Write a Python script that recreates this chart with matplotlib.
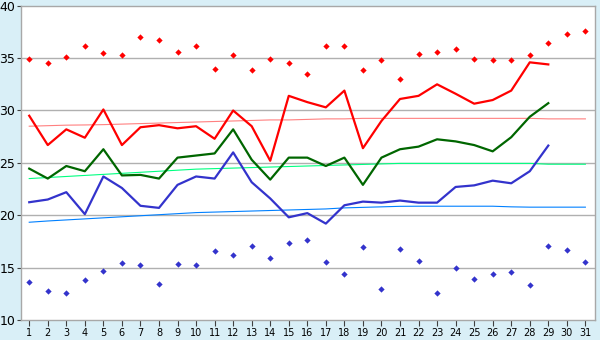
import matplotlib
matplotlib.use("Agg")
import matplotlib.pyplot as plt

days = list(range(1, 32))
obs_days = list(range(1, 30))

record_max = [34.9, 34.5, 35.1, 36.2, 35.5, 35.3, 37.0, 36.7, 35.6, 36.2,
              34.0, 35.3, 33.9, 34.9, 34.5, 33.5, 36.2, 36.2, 33.9, 34.8,
              33.0, 35.4, 35.6, 35.9, 34.9, 34.8, 34.8, 35.3, 36.4, 37.3, 37.6]
record_min = [13.6, 12.75, 12.56, 13.8, 14.65, 15.4, 15.2, 13.4, 15.3, 15.2,
              16.6, 16.2, 17.1, 15.9, 17.3, 17.6, 15.5, 14.4, 16.95, 13.0,
              16.75, 15.6, 12.56, 15.0, 13.9, 14.4, 14.55, 13.3, 17.1, 16.65, 15.5]

tmax = [29.5, 26.7, 28.2, 27.4, 30.1, 26.7, 28.4, 28.6, 28.3, 28.5,
        27.3, 30.0, 28.5, 25.2, 31.4, 30.8, 30.3, 31.9, 26.4, 29.0,
        31.1, 31.4, 32.5, 31.6, 30.65, 31.0, 31.9, 34.6, 34.4]
tmean = [24.45, 23.5, 24.7, 24.2, 26.3, 23.8, 23.85, 23.5, 25.5, 25.7,
         25.9, 28.2, 25.3, 23.4, 25.5, 25.5, 24.7, 25.5, 22.9, 25.5,
         26.3, 26.55, 27.25, 27.05, 26.7, 26.1, 27.45, 29.4, 30.7]
tmin = [21.24, 21.5, 22.2, 20.1, 23.7, 22.6, 20.9, 20.7, 22.9, 23.7,
        23.5, 26.0, 23.15, 21.6, 19.8, 20.2, 19.2, 20.95, 21.3, 21.2,
        21.4, 21.2, 21.2, 22.7, 22.85, 23.3, 23.05, 24.2, 26.65]

normal_max = [28.5, 28.55, 28.6, 28.62, 28.65, 28.7, 28.75, 28.8, 28.85, 28.9,
              28.95, 29.0, 29.05, 29.1, 29.1, 29.15, 29.2, 29.2, 29.25, 29.25,
              29.25, 29.25, 29.25, 29.25, 29.25, 29.25, 29.25, 29.25, 29.2, 29.2, 29.2]
normal_mean = [23.5, 23.6, 23.7, 23.8, 23.9, 24.0, 24.1, 24.2, 24.3, 24.4,
               24.45, 24.5, 24.55, 24.6, 24.65, 24.7, 24.75, 24.8, 24.85, 24.9,
               24.95, 24.95, 24.95, 24.95, 24.95, 24.95, 24.95, 24.95, 24.87, 24.87, 24.87]
normal_min = [19.33, 19.45, 19.55, 19.65, 19.75, 19.85, 19.95, 20.05, 20.15, 20.25,
              20.3, 20.35, 20.4, 20.45, 20.5, 20.55, 20.6, 20.7, 20.75, 20.8,
              20.85, 20.86, 20.86, 20.86, 20.86, 20.86, 20.8, 20.77, 20.77, 20.77, 20.77]

y_ticks = [10, 15, 20, 25, 30, 35, 40]

bg = "#d9eff7"
fig = plt.figure(figsize=(6, 3.4), dpi=100, facecolor=bg)
ax = fig.add_axes([0.0345, 0.059, 0.9572, 0.924])
ax.set_facecolor("white")

for y in [15, 20, 25, 30, 35]:
    ax.axhline(y, color="#b0b0b0", lw=1.0, zorder=1)

ax.plot(days, normal_max, color="#ff8080", lw=0.8, zorder=2)
ax.plot(days, normal_mean, color="#00ff80", lw=0.8, zorder=2)
ax.plot(days, normal_min, color="#0080ff", lw=0.8, zorder=2)

ax.plot(obs_days, tmax, color="#ff0000", lw=1.6, zorder=3)
ax.plot(obs_days, tmean, color="#006600", lw=1.6, zorder=3)
ax.plot(obs_days, tmin, color="#3333cc", lw=1.6, zorder=3)

ax.plot(days, record_max, linestyle="none", marker="D", markersize=3.2,
        color="#ff0000", markeredgewidth=0, zorder=4)
ax.plot(days, record_min, linestyle="none", marker="D", markersize=3.2,
        color="#3333cc", markeredgewidth=0, zorder=4)

ax.set_xlim(0.54, 31.52)
ax.set_ylim(10, 40)
ax.set_xticks(days)
ax.set_xticklabels([str(d) for d in days], fontsize=7)
ax.set_yticks(y_ticks)
ax.set_yticklabels([str(v) for v in y_ticks], fontsize=9)
ax.tick_params(axis="x", length=4, width=0.8, color="#404040", pad=2)
ax.tick_params(axis="y", length=3, width=0.8, color="#404040", pad=1)
for s in ax.spines.values():
    s.set_color("#a8a8a8")
    s.set_linewidth(1.0)

fig.savefig("out.png", dpi=100, facecolor=bg)
